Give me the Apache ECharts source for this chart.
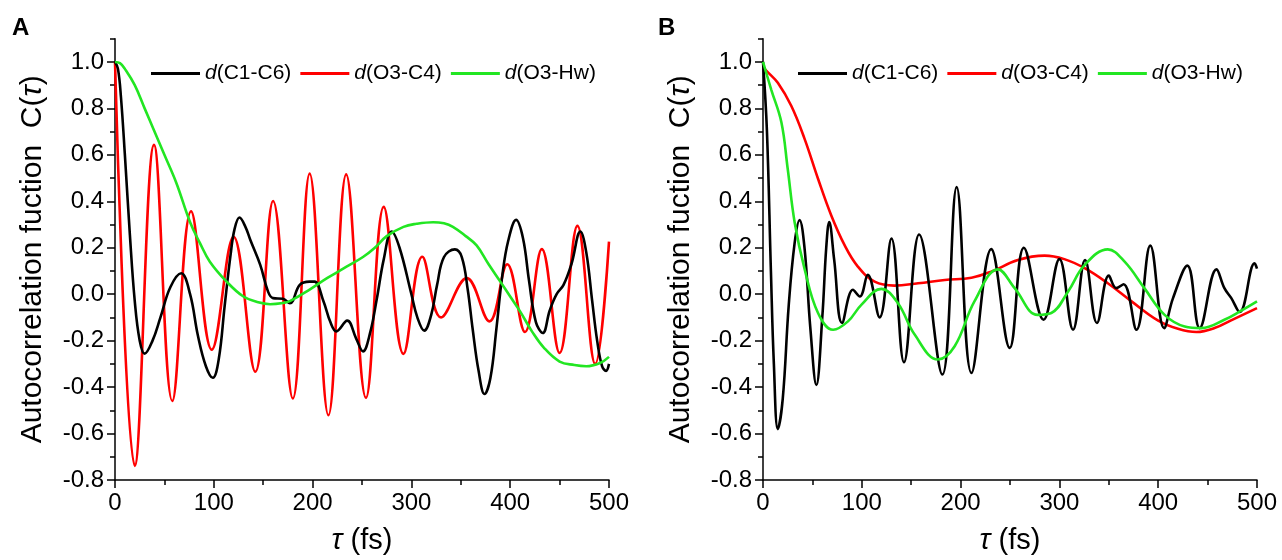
<!DOCTYPE html>
<html>
<head>
<meta charset="utf-8">
<script src="https://cdn.jsdelivr.net/npm/echarts@6/dist/echarts.min.js"></script>
<style>
html,body{margin:0;padding:0;background:#fff;}
#c{width:1282px;height:560px;}
</style>
</head>
<body>
<div id="c"></div>
<script>
// ---- tick labels / axis ranges ----
const xMajorTicks = [0, 100, 200, 300, 400, 500];
const xMinorTicks = [50, 150, 250, 350, 450];
const yMajorTicks = [-0.8, -0.6, -0.4, -0.2, 0.0, 0.2, 0.4, 0.6, 0.8, 1.0];
const yMinorTicks = [-0.7, -0.5, -0.3, -0.1, 0.1, 0.3, 0.5, 0.7, 0.9, 1.1];
const seriesNames = ['d(C1-C6)', 'd(O3-C4)', 'd(O3-Hw)'];
const panelLabels = ['A', 'B'];

// ---- Panel A data [tau (fs), C(tau)] ----
const A_C1C6 = [[0,1.0],[3,0.97],[6,0.85],[10,0.6],[15,0.26],[20,-0.03],[25,-0.2],[30,-0.256],[38,-0.2],[46,-0.1],[56,0.03],[67,0.09],[76,0.0],[84,-0.18],[92,-0.31],[99,-0.36],[105,-0.28],[111,-0.05],[117,0.17],[121,0.28],[126,0.33],[132,0.29],[137,0.233],[147,0.126],[155,0.01],[160,-0.017],[170,-0.02],[177,-0.039],[187,0.04],[197,0.054],[202,0.054],[211,-0.03],[218,-0.12],[224,-0.16],[235,-0.114],[244,-0.19],[251,-0.246],[258,-0.17],[265,-0.02],[272,0.15],[280,0.27],[288,0.2],[300,0.0],[306,-0.1],[313,-0.157],[320,-0.09],[326,0.04],[333,0.16],[344,0.193],[351,0.16],[357,0.02],[362,-0.15],[368,-0.33],[374,-0.43],[380,-0.36],[386,-0.15],[392,0.08],[398,0.23],[406,0.32],[413,0.24],[419,0.06],[426,-0.12],[433,-0.167],[440,-0.07],[447,0.0],[454,0.04],[462,0.13],[471,0.27],[477,0.18],[483,-0.03],[488,-0.2],[493,-0.31],[497,-0.33],[500,-0.3]];
const A_O3C4 = [[0,1.0],[20,-0.739],[39.5,0.643],[58,-0.46],[77,0.357],[98,-0.239],[120,0.247],[142,-0.334],[160,0.401],[180,-0.449],[197,0.519],[216,-0.521],[234,0.516],[254,-0.446],[272,0.376],[292,-0.257],[311,0.161],[330,-0.1],[356,0.069],[379,-0.117],[397,0.129],[415,-0.163],[432,0.194],[450,-0.253],[468,0.294],[486,-0.3],[500,0.226]];
const A_O3Hw = [[0,1.0],[5,0.995],[10,0.97],[20,0.9],[30,0.8],[39,0.71],[50,0.6],[62,0.48],[76,0.31],[86,0.22],[96,0.14],[113,0.054],[130,-0.01],[145,-0.035],[157,-0.043],[170,-0.038],[177,-0.03],[197,0.02],[215,0.07],[231,0.11],[251,0.16],[263,0.2],[275,0.25],[292,0.29],[305,0.303],[322,0.31],[333,0.305],[342,0.29],[355,0.25],[366,0.21],[378,0.13],[390,0.054],[400,-0.01],[410,-0.074],[422,-0.16],[434,-0.23],[450,-0.29],[465,-0.305],[477,-0.31],[491,-0.296],[500,-0.27]];

// ---- Panel B data ----
const B_C1C6 = [[0,1.0],[4,0.7],[8,0.1],[11,-0.3],[15,-0.581],[20,-0.45],[26,-0.05],[32,0.22],[37,0.319],[42,0.2],[48,-0.15],[54,-0.391],[60,-0.1],[64,0.2],[67,0.311],[72,0.15],[80,-0.124],[91,0.019],[98,-0.01],[106,0.083],[118,-0.1],[130,0.24],[142.7,-0.293],[158,0.257],[181.5,-0.346],[196,0.461],[211,-0.339],[231,0.194],[249.7,-0.231],[264,0.2],[284,-0.11],[300,0.151],[313.8,-0.153],[326,0.147],[338,-0.124],[350,0.08],[357.6,0.026],[365,0.043],[378,-0.153],[392,0.209],[406,-0.146],[415,-0.017],[429.5,0.123],[442,-0.146],[459,0.107],[467,0.026],[474,-0.017],[482.5,-0.077],[497.6,0.133],[500,0.11]];
const B_O3C4 = [[0,0.976],[5,0.955],[15,0.91],[28.7,0.81],[42,0.67],[55.7,0.497],[69,0.34],[82.7,0.21],[96,0.119],[113,0.054],[133,0.037],[157,0.047],[184,0.061],[211,0.071],[231,0.097],[258,0.147],[285,0.166],[305,0.151],[326,0.111],[349,0.047],[373,-0.031],[400,-0.114],[420,-0.149],[438.6,-0.163],[457,-0.146],[477,-0.106],[500,-0.06]];
const B_O3Hw = [[0,1.0],[8.4,0.88],[18.6,0.74],[25,0.54],[32,0.31],[42,0.11],[55.7,-0.081],[71,-0.153],[86,-0.117],[99.5,-0.046],[119.8,0.023],[136.6,-0.039],[153.5,-0.174],[177,-0.281],[194,-0.224],[214,-0.031],[237.8,0.107],[254.7,0.026],[278,-0.089],[291.8,-0.081],[308.7,0.011],[325.6,0.126],[349,0.193],[366,0.14],[386,0.026],[406.5,-0.089],[426.8,-0.139],[443.7,-0.146],[467,-0.11],[484,-0.071],[500,-0.031]];

const colors = ['#000000', '#ff0000', '#22e622'];
const FONT = '"Liberation Sans", Arial, sans-serif';

const chart = echarts.init(document.getElementById('c'), null, {renderer: 'canvas'});

const grids = [
  {left: 115, top: 38.7, width: 494, height: 443.3},
  {left: 763, top: 38.7, width: 494, height: 443.3}
];

const xAxes = [], yAxes = [];
[0, 1].forEach(g => {
  xAxes.push({
    type: 'value', gridIndex: g, position: 'bottom', min: 0, max: 500, interval: 100,
    axisLine: {show: true, onZero: false, lineStyle: {color: '#000', width: 1.5}},
    axisTick: {show: true, inside: false, length: 8, lineStyle: {color: '#000', width: 1.5}, customValues: xMajorTicks},
    axisLabel: {show: true, margin: 11, color: '#000', fontSize: 24, fontFamily: FONT, customValues: xMajorTicks},
    splitLine: {show: false},
    name: '{i|τ} (fs)', nameLocation: 'middle', nameGap: 46,
    nameTextStyle: {color: '#000', fontSize: 29, fontFamily: FONT,
      rich: {i: {fontStyle: 'italic', fontSize: 29, fontFamily: FONT, color: '#000'}}}
  });
  xAxes.push({
    type: 'value', gridIndex: g, position: 'bottom', offset: 0, min: 0, max: 500,
    axisLine: {show: false, onZero: false},
    axisTick: {show: true, inside: false, length: 5, lineStyle: {color: '#000', width: 1.5}, customValues: xMinorTicks},
    axisLabel: {show: false},
    splitLine: {show: false}
  });
  yAxes.push({
    type: 'value', gridIndex: g, position: 'left', min: -0.8, max: 1.1,
    axisLine: {show: true, onZero: false, lineStyle: {color: '#000', width: 1.5}},
    axisTick: {show: true, inside: false, length: 8, lineStyle: {color: '#000', width: 1.5}, customValues: yMajorTicks},
    axisLabel: {show: true, margin: 11, color: '#000', fontSize: 24, fontFamily: FONT, customValues: yMajorTicks,
      formatter: v => v.toFixed(1)},
    splitLine: {show: false},
    name: 'Autocorrelation fuction  C({i|τ})', nameLocation: 'middle', nameGap: 67,
    nameTextStyle: {color: '#000', fontSize: 30, fontFamily: FONT,
      rich: {i: {fontStyle: 'italic', fontSize: 30, fontFamily: FONT, color: '#000'}}}
  });
  yAxes.push({
    type: 'value', gridIndex: g, position: 'left', offset: 0, min: -0.8, max: 1.1,
    axisLine: {show: false, onZero: false},
    axisTick: {show: true, inside: false, length: 5, lineStyle: {color: '#000', width: 1.5}, customValues: yMinorTicks},
    axisLabel: {show: false},
    splitLine: {show: false}
  });
});

const panelData = [[A_C1C6, A_O3C4, A_O3Hw], [B_C1C6, B_O3C4, B_O3Hw]];
const series = [];
panelData.forEach((arr, g) => {
  arr.forEach((d, k) => {
    series.push({
      type: 'line', name: seriesNames[k], data: d,
      xAxisIndex: g * 2, yAxisIndex: g * 2,
      smooth: 0.4, symbol: 'none', showSymbol: false,
      lineStyle: {color: colors[k], width: 2.6}, itemStyle: {color: colors[k]},
      z: k === 0 ? 3 : (k === 1 ? 2 : 4)
    });
  });
});

const legendCommon = {
  orient: 'horizontal', itemWidth: 49, itemHeight: 3, itemGap: 9, padding: 0,
  icon: 'rect',
  data: seriesNames,
  formatter: n => '{i|' + n.charAt(0) + '}' + n.slice(1),
  textStyle: {color: '#000', fontSize: 21, fontFamily: FONT,
    rich: {i: {fontStyle: 'italic', fontSize: 21, fontFamily: FONT, color: '#000'}}},
  selectedMode: false
};

chart.setOption({
  animation: false,
  backgroundColor: '#fff',
  grid: grids,
  xAxis: xAxes,
  yAxis: yAxes,
  legend: [
    Object.assign({left: 151, top: 63}, legendCommon),
    Object.assign({left: 798, top: 63}, legendCommon)
  ],
  graphic: [
    {type: 'text', left: 12, top: 16, style: {text: panelLabels[0], font: 'bold 24px ' + FONT, fill: '#000'}},
    {type: 'text', left: 658, top: 16, style: {text: panelLabels[1], font: 'bold 24px ' + FONT, fill: '#000'}}
  ],
  series: series
});
</script>
</body>
</html>
